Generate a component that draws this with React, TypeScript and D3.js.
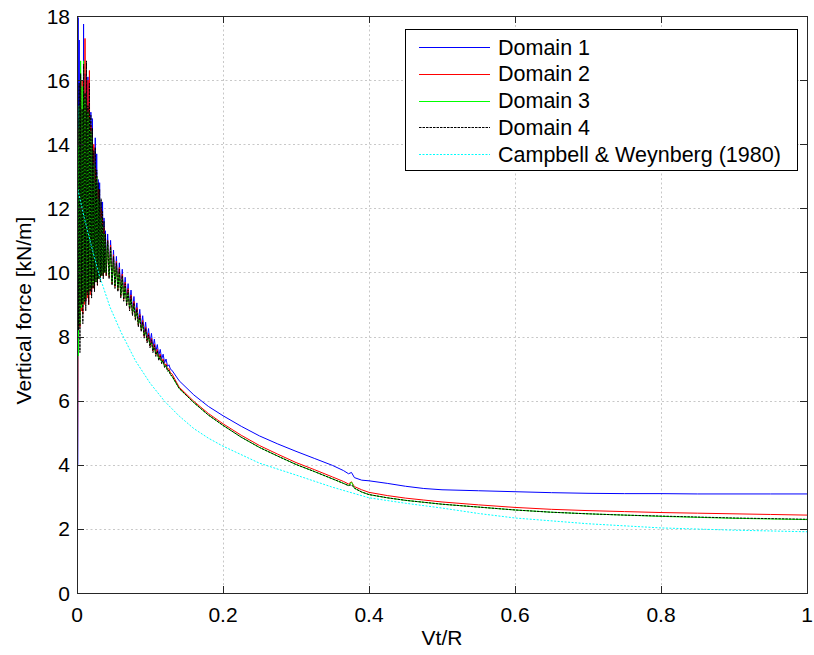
import React from "react";
import * as d3 from "d3";

// ---------- data ----------
// very dense oscillation region, shared abscissa Vt/R
const vtDense = [
  0.002, 0.003, 0.004, 0.005, 0.006, 0.007, 0.008, 0.009, 0.01, 0.011,
  0.012, 0.013, 0.014, 0.015, 0.016, 0.017, 0.018, 0.019, 0.02, 0.021,
  0.022, 0.023, 0.024, 0.025, 0.026, 0.027, 0.028, 0.029, 0.03, 0.031,
  0.032, 0.033, 0.034, 0.035, 0.036, 0.037, 0.038, 0.039, 0.04,
];
// decaying oscillation region
const vtMid = [
  0.042, 0.044, 0.046, 0.048, 0.05, 0.052, 0.054, 0.056, 0.058, 0.06,
  0.062, 0.064, 0.066, 0.068, 0.07, 0.072, 0.074, 0.076, 0.078, 0.08,
  0.082, 0.084, 0.086, 0.088, 0.09, 0.092, 0.094, 0.096, 0.098, 0.1,
  0.102, 0.104, 0.106, 0.108, 0.11, 0.112, 0.114, 0.116, 0.118, 0.12,
  0.122, 0.124, 0.126, 0.128, 0.13,
];
// smooth region abscissa
const vtSmooth = [
  0.14, 0.16, 0.18, 0.2, 0.225, 0.25, 0.275, 0.3, 0.325, 0.35, 0.365, 0.372,
  0.376, 0.38, 0.39, 0.4, 0.425, 0.45, 0.475, 0.5, 0.55, 0.6, 0.65, 0.7, 0.75,
  0.8, 0.85, 0.9, 0.95, 1.0,
];

// start ramps [Vt/R, force]
const d1Start: [number, number][] = [[0, 0], [0.0004, 4.0], [0.0011, 4.0], [0.0016, 17.95]];
const d2Start: [number, number][] = [[0, 0], [0.0006, 3.6], [0.0012, 6.6], [0.0016, 12.0]];
const d3Start: [number, number][] = [[0, 0], [0.0006, 5.0], [0.0011, 10.0], [0.0016, 14.0]];
const d4Start: [number, number][] = [[0, 0], [0.0004, 12.6], [0.001, 14.8], [0.0015, 11.0]];

// Domain 1
const d1Dense = [
  10.8, 17.25, 9.6, 16.0, 9.2, 15.3, 9.0, 17.75, 9.3, 16.2,
  9.1, 15.8, 9.4, 16.1, 9.3, 15.4, 9.5, 15.0, 9.4, 14.8,
  9.6, 13.9, 9.5, 14.2, 9.8, 13.7, 9.7, 12.9, 9.9, 12.8,
  9.8, 12.2, 10.0, 12.2, 9.9, 11.7, 10.1, 11.3, 10.0,
];
const d1Mid = [
  11.2, 9.95, 11.0, 9.75, 10.7, 9.65, 10.5, 9.55, 10.3, 9.35,
  10.1, 9.25, 9.85, 9.1, 9.65, 8.95, 9.45, 8.8, 9.25, 8.65,
  9.05, 8.45, 8.85, 8.3, 8.65, 8.1, 8.45, 7.95, 8.25, 7.8,
  8.1, 7.65, 7.92, 7.52, 7.75, 7.4, 7.6, 7.3, 7.45, 7.18,
  7.3, 7.07, 7.12, 6.98, 6.95,
];
const d1Smooth = [
  6.62, 6.18, 5.82, 5.53, 5.2, 4.9, 4.65, 4.42, 4.2, 3.98, 3.82, 3.72,
  3.76, 3.6, 3.52, 3.5, 3.42, 3.33, 3.26, 3.22, 3.19, 3.16, 3.13, 3.11, 3.1,
  3.1, 3.09, 3.09, 3.09, 3.09,
];

// Domain 2
const d2Dense = [
  8.0, 14.5, 8.3, 15.6, 8.8, 16.0, 8.7, 15.4, 9.0, 17.3,
  9.1, 15.9, 9.2, 16.0, 9.0, 16.3, 9.3, 14.6, 9.4, 14.2,
  9.5, 14.0, 9.5, 13.3, 9.7, 13.0, 9.6, 12.6, 9.8, 12.2,
  9.8, 12.0, 9.9, 11.7, 9.9, 11.4, 10.0, 11.0, 9.9,
];
const d2Mid = [
  11.0, 9.85, 10.85, 9.65, 10.55, 9.55, 10.35, 9.45, 10.15, 9.25,
  9.95, 9.15, 9.7, 9.0, 9.5, 8.85, 9.3, 8.7, 9.1, 8.55,
  8.9, 8.35, 8.7, 8.2, 8.5, 8.0, 8.3, 7.85, 8.1, 7.7,
  7.95, 7.55, 7.77, 7.43, 7.6, 7.3, 7.45, 7.2, 7.3, 7.08,
  7.15, 6.97, 7.0, 6.86, 6.84,
];
const d2Smooth = [
  6.42, 5.98, 5.6, 5.28, 4.92, 4.6, 4.33, 4.07, 3.85, 3.62, 3.48, 3.4,
  3.47, 3.32, 3.22, 3.14, 3.04, 2.96, 2.9, 2.84, 2.75, 2.67, 2.61, 2.57, 2.54,
  2.51, 2.49, 2.47, 2.45, 2.43,
];

// Domain 3
const d3Dense = [
  7.4, 15.2, 8.4, 16.6, 8.9, 15.8, 9.0, 16.6, 9.1, 15.4,
  9.2, 15.6, 9.4, 15.0, 9.3, 14.8, 9.5, 14.4, 9.5, 14.2,
  9.6, 13.4, 9.7, 12.8, 9.7, 13.0, 9.8, 12.3, 9.8, 12.2,
  9.9, 11.7, 9.9, 11.5, 10.0, 11.2, 10.0, 11.0, 10.0,
];
const d3Mid = [
  10.9, 9.9, 10.7, 9.7, 10.4, 9.6, 10.2, 9.5, 10.0, 9.3,
  9.8, 9.2, 9.55, 9.05, 9.35, 8.9, 9.15, 8.75, 8.95, 8.6,
  8.75, 8.4, 8.55, 8.25, 8.35, 8.05, 8.15, 7.9, 7.95, 7.75,
  7.82, 7.58, 7.65, 7.45, 7.5, 7.3, 7.35, 7.2, 7.22, 7.07,
  7.08, 6.95, 6.92, 6.82, 6.76,
];
const d3Smooth = [
  6.38, 5.94, 5.55, 5.23, 4.86, 4.54, 4.27, 4.01, 3.79, 3.56, 3.42, 3.35,
  3.46, 3.27, 3.15, 3.07, 2.97, 2.89, 2.83, 2.77, 2.68, 2.59, 2.52, 2.47, 2.43,
  2.39, 2.36, 2.33, 2.31, 2.29,
];

// Domain 4
const d4Dense = [
  8.2, 15.9, 7.5, 16.2, 9.0, 15.1, 8.4, 16.5, 9.1, 15.6,
  8.8, 16.6, 9.3, 15.2, 9.0, 15.9, 9.4, 14.9, 9.2, 14.5,
  9.5, 13.8, 9.4, 13.9, 9.7, 13.2, 9.6, 12.8, 9.8, 12.6,
  9.7, 12.3, 9.9, 11.9, 9.8, 11.6, 10.0, 11.2, 9.9,
];
const d4Mid = [
  11.0, 9.8, 10.8, 9.6, 10.5, 9.5, 10.3, 9.4, 10.1, 9.2,
  9.9, 9.1, 9.65, 8.95, 9.45, 8.8, 9.25, 8.65, 9.05, 8.5,
  8.85, 8.3, 8.65, 8.15, 8.45, 7.95, 8.25, 7.8, 8.05, 7.65,
  7.9, 7.5, 7.72, 7.38, 7.55, 7.25, 7.4, 7.15, 7.25, 7.03,
  7.1, 6.92, 6.95, 6.8, 6.78,
];
const d4Smooth = [
  6.38, 5.94, 5.55, 5.23, 4.86, 4.54, 4.27, 4.01, 3.79, 3.56, 3.42, 3.35,
  3.38, 3.27, 3.15, 3.07, 2.97, 2.89, 2.83, 2.77, 2.68, 2.59, 2.52, 2.47, 2.43,
  2.4, 2.37, 2.34, 2.32, 2.3,
];

// Campbell & Weynberg (1980)
const cwVt = [
  0, 0.005, 0.01, 0.02, 0.03, 0.045, 0.06, 0.08, 0.1, 0.12, 0.14, 0.16, 0.18,
  0.2, 0.25, 0.3, 0.35, 0.4, 0.45, 0.5, 0.55, 0.6, 0.7, 0.8, 0.9, 1.0,
];
const cwForce = [
  12.7, 12.2, 11.7, 10.8, 9.95, 8.93, 8.15, 7.25, 6.55, 5.98, 5.52, 5.13, 4.83,
  4.58, 4.05, 3.68, 3.3, 2.97, 2.8, 2.65, 2.48, 2.34, 2.16, 2.03, 1.96, 1.91,
];

const xTicks = [0, 0.2, 0.4, 0.6, 0.8, 1];
const yTicks = [0, 2, 4, 6, 8, 10, 12, 14, 16, 18];
const legendLabels = ["Domain 1", "Domain 2", "Domain 3", "Domain 4", "Campbell & Weynberg (1980)"];

// ---------- helpers ----------
function zip(xs: number[], ys: number[]): [number, number][] {
  const n = Math.min(xs.length, ys.length);
  const out: [number, number][] = [];
  for (let i = 0; i < n; i++) out.push([xs[i], ys[i]]);
  return out;
}
function build(start: [number, number][], dense: number[], mid: number[], smooth: number[]) {
  return [...start, ...zip(vtDense, dense), ...zip(vtMid, mid), ...zip(vtSmooth, smooth)];
}

const W = 814;
const H = 655;
const M = { left: 77, right: 807, top: 16, bottom: 593 };
const FONT = "Liberation Sans, Arial, Helvetica, sans-serif";

export default function App() {
  const x = d3.scaleLinear().domain([0, 1]).range([M.left, M.right]);
  const y = d3.scaleLinear().domain([0, 18]).range([M.bottom, M.top]);
  const line = d3
    .line<[number, number]>()
    .x((d) => x(d[0]))
    .y((d) => y(d[1]));

  const series = [
    { data: build(d1Start, d1Dense, d1Mid, d1Smooth), color: "#0000ff", dash: undefined as string | undefined },
    { data: build(d2Start, d2Dense, d2Mid, d2Smooth), color: "#ff0000", dash: undefined },
    { data: build(d3Start, d3Dense, d3Mid, d3Smooth), color: "#00ff00", dash: undefined },
    { data: build(d4Start, d4Dense, d4Mid, d4Smooth), color: "#000000", dash: "2.5,1" },
    { data: zip(cwVt, cwForce), color: "#00ffff", dash: "2,1.5" },
  ];

  const axisColor = "#262626";
  const tickLen = 7;
  const lg = { x0: 405, y0: 29, x1: 797, y1: 170 };
  const rowY = (i: number) => 47 + i * 26.75;

  return (
    <svg
      width={W}
      height={H}
      style={{ position: "absolute", left: 0, top: 0, background: "#fff" }}
      fontFamily={FONT}
    >
      <defs>
        <clipPath id="plotClip">
          <rect x={M.left} y={M.top} width={M.right - M.left} height={M.bottom - M.top} />
        </clipPath>
      </defs>
      <rect x={0} y={0} width={W} height={H} fill="#fff" />
      {/* grid */}
      <g stroke="#c8c8c8" strokeWidth={1} strokeDasharray="2,2.5">
        {xTicks.slice(1, -1).map((t) => (
          <line key={"gx" + t} x1={Math.round(x(t)) + 0.5} x2={Math.round(x(t)) + 0.5} y1={M.top} y2={M.bottom} />
        ))}
        {yTicks.slice(1, -1).map((t) => (
          <line key={"gy" + t} x1={M.left} x2={M.right} y1={Math.round(y(t)) + 0.5} y2={Math.round(y(t)) + 0.5} />
        ))}
      </g>
      {/* curves */}
      <g clipPath="url(#plotClip)" fill="none" strokeWidth={1}>
        {series.map((s, i) => (
          <path key={i} d={line(s.data) || ""} stroke={s.color} strokeDasharray={s.dash} />
        ))}
      </g>
      {/* axes box and ticks */}
      <g stroke={axisColor} strokeWidth={1}>
        <rect
          x={M.left + 0.5}
          y={M.top + 0.5}
          width={M.right - M.left}
          height={M.bottom - M.top}
          fill="none"
        />
        {xTicks.map((t) => (
          <g key={"tx" + t}>
            <line x1={Math.round(x(t)) + 0.5} x2={Math.round(x(t)) + 0.5} y1={M.bottom} y2={M.bottom - tickLen} />
            <line x1={Math.round(x(t)) + 0.5} x2={Math.round(x(t)) + 0.5} y1={M.top} y2={M.top + tickLen} />
          </g>
        ))}
        {yTicks.map((t) => (
          <g key={"ty" + t}>
            <line x1={M.left} x2={M.left + tickLen} y1={Math.round(y(t)) + 0.5} y2={Math.round(y(t)) + 0.5} />
            <line x1={M.right} x2={M.right - tickLen} y1={Math.round(y(t)) + 0.5} y2={Math.round(y(t)) + 0.5} />
          </g>
        ))}
      </g>
      {/* tick labels */}
      <g fontSize={21} fill="#000">
        {xTicks.map((t) => (
          <text key={"lx" + t} x={x(t)} y={M.bottom + 29} textAnchor="middle">
            {String(t)}
          </text>
        ))}
        {yTicks.map((t) => (
          <text key={"ly" + t} x={M.left - 7} y={y(t) + 7.5} textAnchor="end">
            {String(t)}
          </text>
        ))}
      </g>
      {/* axis titles */}
      <text x={(M.left + M.right) / 2} y={645} textAnchor="middle" fontSize={21}>
        Vt/R
      </text>
      <text
        transform={`translate(31, ${(M.top + M.bottom) / 2 + 6}) rotate(-90)`}
        textAnchor="middle"
        fontSize={21}
      >
        Vertical force [kN/m]
      </text>
      {/* legend */}
      <g>
        <rect
          x={lg.x0 + 0.5}
          y={lg.y0 + 0.5}
          width={lg.x1 - lg.x0}
          height={lg.y1 - lg.y0}
          fill="#fff"
          stroke="#000"
          strokeWidth={1}
        />
        {legendLabels.map((label, i) => (
          <g key={label}>
            <line
              x1={419}
              x2={490}
              y1={Math.round(rowY(i)) + 0.5}
              y2={Math.round(rowY(i)) + 0.5}
              stroke={series[i].color}
              strokeWidth={1}
              strokeDasharray={series[i].dash}
            />
            <text x={498} y={rowY(i) + 7.5} fontSize={21.5} fill="#000">
              {label}
            </text>
          </g>
        ))}
      </g>
    </svg>
  );
}
